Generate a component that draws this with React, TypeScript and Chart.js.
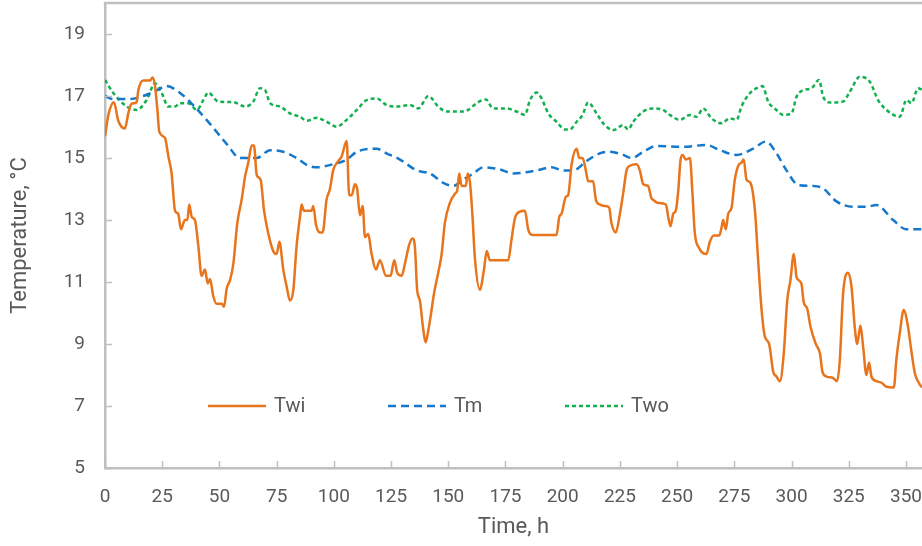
import React, { useEffect, useRef } from "react";
import { Chart, registerables } from "chart.js";

Chart.register(...registerables);

const X_TICKS = [0, 25, 50, 75, 100, 125, 150, 175, 200, 225, 250, 275, 300, 325, 350];
const Y_TICKS = [5, 7, 9, 11, 13, 15, 17, 19];

const twiHours = [0, 1.5, 3.9, 5.8, 8.7, 10.2, 11.6, 13.8, 14.6, 16.7, 19.7, 20.8, 21.8, 22.9, 23.7, 26.2, 27.7, 29.1, 30.6, 32, 33.2, 34.9, 36, 36.8, 37.9, 39.3, 40.8, 42.2, 43.7, 44.9, 45.9, 47.3, 48.8, 51, 52, 53.2, 54.6, 56.1, 57.8, 59.7, 61.2, 62.6, 64.1, 65.1, 66.3, 68, 69.5, 71.4, 73.5, 75, 76.2, 77.9, 79.4, 80.8, 82.3, 83.7, 85.2, 85.9, 86.9, 90.3, 91, 92.2, 93.9, 95.1, 96.8, 98.3, 99.7, 101.9, 103.4, 105.6, 106.7, 107.8, 109.2, 110.2, 111.4, 112.6, 113.6, 115, 116.5, 118.4, 120.1, 122.8, 124.8, 126.4, 127.7, 129.6, 131.1, 132.9, 134.4, 135.4, 136.4, 137.6, 139.1, 140.1, 141.3, 142.3, 143.7, 145.6, 147.1, 148.5, 150.7, 152.9, 153.9, 154.8, 155.8, 157.7, 158.5, 159.5, 160.6, 161.6, 163.8, 165.6, 166.8, 168.2, 176.2, 177.6, 179.1, 181.3, 183.5, 184.9, 186.8, 197.3, 198.5, 199.5, 201.4, 202.4, 203.9, 206.1, 207.2, 208.7, 210.1, 211.1, 213.3, 214.5, 216.2, 218.4, 220.3, 221.3, 223.2, 225, 226.4, 227.9, 229.4, 232.3, 233.7, 235.2, 237.3, 238.8, 239.5, 241.7, 245.1, 246.1, 247.1, 248.3, 249.4, 250.5, 251.5, 252.4, 253.8, 255.6, 256.7, 257.7, 259.6, 262.8, 264.3, 266, 268.4, 269.4, 270.1, 271.3, 272.3, 273.8, 275.2, 276.7, 278.1, 279.1, 280.3, 282, 284, 285.4, 286.9, 288.3, 290.2, 292, 293.4, 294.9, 296.6, 298.1, 299.5, 301, 302.2, 304.3, 305.3, 306.8, 308.3, 310.6, 312.4, 313.5, 315.3, 318.2, 319.9, 321.1, 322.5, 324.7, 326.2, 327.6, 328.7, 330.1, 331.3, 332.7, 333.9, 334.9, 337.1, 339.3, 341.5, 344.7, 345.8, 347.3, 349, 350.9, 352.4, 353.9, 356, 357];
const twiTemps = [15.7, 16.4, 16.8, 16.2, 15.95, 16.45, 16.75, 16.8, 17.2, 17.5, 17.5, 17.6, 17.35, 16.55, 15.85, 15.65, 15.05, 14.5, 13.3, 13.2, 12.7, 13.0, 13.0, 13.5, 13.1, 13.0, 12.15, 11.2, 11.4, 10.95, 11.1, 10.55, 10.3, 10.3, 10.2, 10.8, 11.05, 11.6, 12.9, 13.65, 14.4, 14.85, 15.4, 15.4, 14.45, 14.3, 13.3, 12.55, 12.0, 11.9, 12.3, 11.4, 10.85, 10.4, 10.75, 12.15, 13.1, 13.5, 13.3, 13.3, 13.45, 12.85, 12.6, 12.6, 13.65, 14.0, 14.6, 14.9, 15.05, 15.55, 13.8, 13.8, 14.15, 14.0, 13.15, 13.45, 12.45, 12.55, 11.9, 11.4, 11.7, 11.2, 11.2, 11.7, 11.3, 11.2, 11.6, 12.2, 12.4, 12.15, 10.75, 10.4, 9.45, 9.05, 9.45, 9.9, 10.6, 11.3, 11.9, 12.9, 13.55, 13.85, 13.95, 14.5, 14.1, 14.1, 14.5, 14.2, 13.1, 11.8, 10.75, 11.4, 12.0, 11.7, 11.7, 12.35, 13.05, 13.27, 13.3, 12.7, 12.52, 12.52, 13.1, 13.2, 13.75, 13.8, 14.8, 15.3, 15.0, 15.0, 14.6, 14.25, 14.25, 13.65, 13.5, 13.45, 13.4, 12.9, 12.6, 13.2, 13.85, 14.6, 14.75, 14.8, 14.6, 14.15, 14.1, 13.7, 13.65, 13.55, 13.5, 13.1, 12.8, 13.2, 13.3, 13.95, 14.95, 15.1, 14.95, 15.0, 13.85, 12.6, 12.1, 11.9, 12.3, 12.5, 12.5, 12.75, 13.0, 12.7, 13.2, 13.4, 14.3, 14.75, 14.85, 14.95, 14.3, 14.2, 13.3, 11.7, 10.1, 9.25, 9.0, 8.1, 7.95, 7.8, 8.7, 10.4, 11.05, 11.9, 11.15, 10.95, 10.35, 10.15, 9.55, 9.0, 8.7, 8.1, 7.95, 7.9, 7.8, 8.5, 10.6, 11.3, 10.85, 9.55, 9.0, 9.6, 8.9, 8.0, 8.4, 7.95, 7.8, 7.75, 7.62, 7.6, 8.5, 9.35, 10.1, 9.55, 8.75, 8.05, 7.7, 7.6];

const tmHours = [0, 3.6, 10.9, 16.7, 21.8, 26.9, 32.8, 38.6, 45.9, 53.2, 59, 66.3, 72.1, 77.9, 83.7, 88.1, 92.5, 99.7, 105.6, 110, 118.7, 123, 128.9, 136.2, 142, 147.8, 152.2, 156.5, 160.9, 165.3, 172.6, 178.4, 188.6, 195.1, 200.2, 204.6, 210.4, 216.2, 220.6, 226.4, 230.1, 235.2, 241, 252.6, 262.8, 268.7, 276, 283.2, 288.8, 293.4, 297.8, 302.9, 309.4, 313.8, 319.6, 326.9, 332.7, 337.1, 344.4, 350.2, 357];
const tmTemps = [17.0, 16.9, 16.9, 17.0, 17.15, 17.32, 17.1, 16.7, 16.1, 15.45, 15.0, 15.0, 15.25, 15.2, 15.0, 14.78, 14.7, 14.8, 14.95, 15.2, 15.3, 15.15, 14.95, 14.6, 14.5, 14.2, 14.1, 14.3, 14.5, 14.7, 14.63, 14.5, 14.6, 14.7, 14.6, 14.6, 14.9, 15.15, 15.2, 15.1, 15.0, 15.2, 15.39, 15.36, 15.42, 15.25, 15.1, 15.3, 15.53, 15.15, 14.6, 14.13, 14.1, 14.02, 13.6, 13.43, 13.43, 13.48, 13.0, 12.7, 12.7];

const twoHours = [0, 3.6, 9.5, 13.8, 18.2, 21.8, 24.8, 27.7, 30.6, 32.8, 36.4, 40.1, 43, 45.1, 49.5, 56.1, 61.2, 64.8, 67.7, 69.9, 72.1, 76.5, 80.8, 85.2, 88.1, 92.5, 96.8, 101.2, 105.6, 110, 114.3, 118.7, 123, 127.4, 133.2, 136.9, 141.3, 145.6, 149.3, 156.5, 158.7, 162.4, 166.4, 169.6, 175.5, 179.8, 183.5, 185.7, 188.6, 190.7, 193.7, 197.3, 201, 203.1, 206.1, 208.7, 211.1, 214.8, 217.7, 222.1, 226.4, 228.6, 230.8, 235.2, 239.5, 243.9, 246.8, 251.2, 255.6, 258.5, 261.4, 265, 269.4, 273, 276, 278.1, 281.8, 284.7, 287.3, 289.8, 293.4, 296.3, 300, 302.2, 305.1, 308.7, 312, 313.8, 316.7, 322.5, 325.5, 329.8, 334.2, 337.8, 341.5, 347.3, 350.2, 352.4, 355.3, 357];
const twoTemps = [17.52, 17.1, 16.66, 16.55, 16.87, 17.41, 17.09, 16.66, 16.66, 16.77, 16.77, 16.55, 16.87, 17.11, 16.82, 16.8, 16.66, 16.82, 17.25, 17.2, 16.77, 16.66, 16.44, 16.33, 16.2, 16.3, 16.17, 16.01, 16.23, 16.55, 16.87, 16.92, 16.71, 16.66, 16.71, 16.6, 17.0, 16.66, 16.5, 16.5, 16.55, 16.77, 16.89, 16.6, 16.6, 16.5, 16.39, 16.87, 17.11, 16.93, 16.44, 16.17, 15.92, 15.92, 16.17, 16.39, 16.79, 16.44, 16.12, 15.9, 16.06, 15.92, 16.17, 16.5, 16.6, 16.55, 16.39, 16.23, 16.39, 16.33, 16.6, 16.28, 16.12, 16.28, 16.23, 16.66, 17.09, 17.25, 17.32, 16.82, 16.55, 16.39, 16.44, 16.98, 17.19, 17.25, 17.52, 16.98, 16.79, 16.82, 17.14, 17.62, 17.46, 16.87, 16.55, 16.33, 16.87, 16.77, 17.25, 17.2];

const SERIES_NAMES = ["Twi", "Tm", "Two"];
const COLORS = ["#E8741C", "#1478CC", "#12B04E"];
const DASHES: number[][] = [[], [8, 5], [4, 3]];

const TEXT = "#595959";
const AXIS = "#BFBFBF";
const FONT = "Roboto, 'DejaVu Sans', sans-serif";

const toPoints = (xs: number[], ys: number[]) => xs.map((x, i) => ({ x, y: ys[i] }));

const decorPlugin = {
  id: "decor",
  afterDraw(chart: any) {
    const { ctx, chartArea: a, scales } = chart;
    const xs = scales.x;
    const ys = scales.y;
    ctx.save();
    ctx.strokeStyle = AXIS;
    ctx.lineWidth = 2.5;
    ctx.beginPath();
    ctx.moveTo(a.left - 1.25, a.top);
    ctx.lineTo(a.right + 2, a.top);
    ctx.stroke();
    ctx.lineWidth = 1.5;
    ctx.beginPath();
    xs.ticks.forEach((t: any) => {
      const px = Math.round(xs.getPixelForValue(t.value)) + 0.5;
      ctx.moveTo(px, a.bottom);
      ctx.lineTo(px, a.bottom - 7);
    });
    ys.ticks.forEach((t: any) => {
      const py = Math.round(ys.getPixelForValue(t.value)) + 0.5;
      ctx.moveTo(a.left, py);
      ctx.lineTo(a.left + 7, py);
    });
    ctx.stroke();

    // legend inside plot
    const ly = ys.getPixelForValue(7);
    const starts = [208, 388, 565];
    ctx.font = `20px ${FONT}`;
    ctx.textBaseline = "middle";
    ctx.textAlign = "left";
    SERIES_NAMES.forEach((name, i) => {
      const x0 = starts[i];
      ctx.strokeStyle = COLORS[i];
      ctx.lineWidth = 2.5;
      ctx.setLineDash(DASHES[i]);
      ctx.beginPath();
      ctx.moveTo(x0, ly);
      ctx.lineTo(x0 + 58, ly);
      ctx.stroke();
      ctx.setLineDash([]);
      ctx.fillStyle = TEXT;
      ctx.fillText(name, x0 + 66, ly + 1);
    });
    ctx.restore();
  },
};

export default function App() {
  const ref = useRef<HTMLCanvasElement | null>(null);

  useEffect(() => {
    document.body.style.margin = "0";
    if (!ref.current) return;
    const chart = new Chart(ref.current, {
      type: "line",
      data: {
        datasets: [
          { label: SERIES_NAMES[0], data: toPoints(twiHours, twiTemps) },
          { label: SERIES_NAMES[1], data: toPoints(tmHours, tmTemps) },
          { label: SERIES_NAMES[2], data: toPoints(twoHours, twoTemps) },
        ].map((d, i) => ({
          ...d,
          borderColor: COLORS[i],
          backgroundColor: COLORS[i],
          borderWidth: 2.5,
          borderDash: DASHES[i],
          pointRadius: 0,
          cubicInterpolationMode: "monotone" as const,
          fill: false,
        })),
      },
      options: {
        animation: false,
        responsive: false,
        maintainAspectRatio: false,
        layout: { padding: { top: 3, right: 0, left: 0, bottom: 0 } },
        plugins: { legend: { display: false }, tooltip: { enabled: false } },
        scales: {
          x: {
            type: "linear",
            min: 0,
            max: 357,
            afterBuildTicks: (s: any) => {
              s.ticks = X_TICKS.map((v) => ({ value: v }));
            },
            afterFit: (s: any) => {
              s.height = 78;
              s.paddingLeft = 0;
              s.paddingRight = 0;
            },
            grid: { display: false, drawTicks: false },
            border: { display: true, color: AXIS, width: 2.5 },
            ticks: {
              color: TEXT,
              font: { family: FONT, size: 19 },
              padding: 18,
              maxRotation: 0,
              autoSkip: false,
            },
            title: {
              display: true,
              text: "Time, h",
              color: TEXT,
              font: { family: FONT, size: 22 },
              padding: { top: 0, bottom: 5 },
            },
          },
          y: {
            type: "linear",
            min: 5,
            max: 20,
            afterBuildTicks: (s: any) => {
              s.ticks = Y_TICKS.map((v) => ({ value: v }));
            },
            afterFit: (s: any) => {
              s.width = 105;
              s.paddingTop = 0;
              s.paddingBottom = 0;
            },
            grid: { display: false, drawTicks: false },
            border: { display: true, color: AXIS, width: 2.5 },
            ticks: {
              color: TEXT,
              font: { family: FONT, size: 19 },
              padding: 20,
            },
            title: {
              display: true,
              text: "Temperature, °C",
              color: TEXT,
              font: { family: FONT, size: 22 },
              padding: { top: 7, bottom: 0 },
            },
          },
        },
      },
      plugins: [decorPlugin],
    });
    return () => chart.destroy();
  }, []);

  return (
    <div style={{ width: 922, height: 546, background: "#fff" }}>
      <canvas ref={ref} width={922} height={546} style={{ width: 922, height: 546, display: "block" }} />
    </div>
  );
}
